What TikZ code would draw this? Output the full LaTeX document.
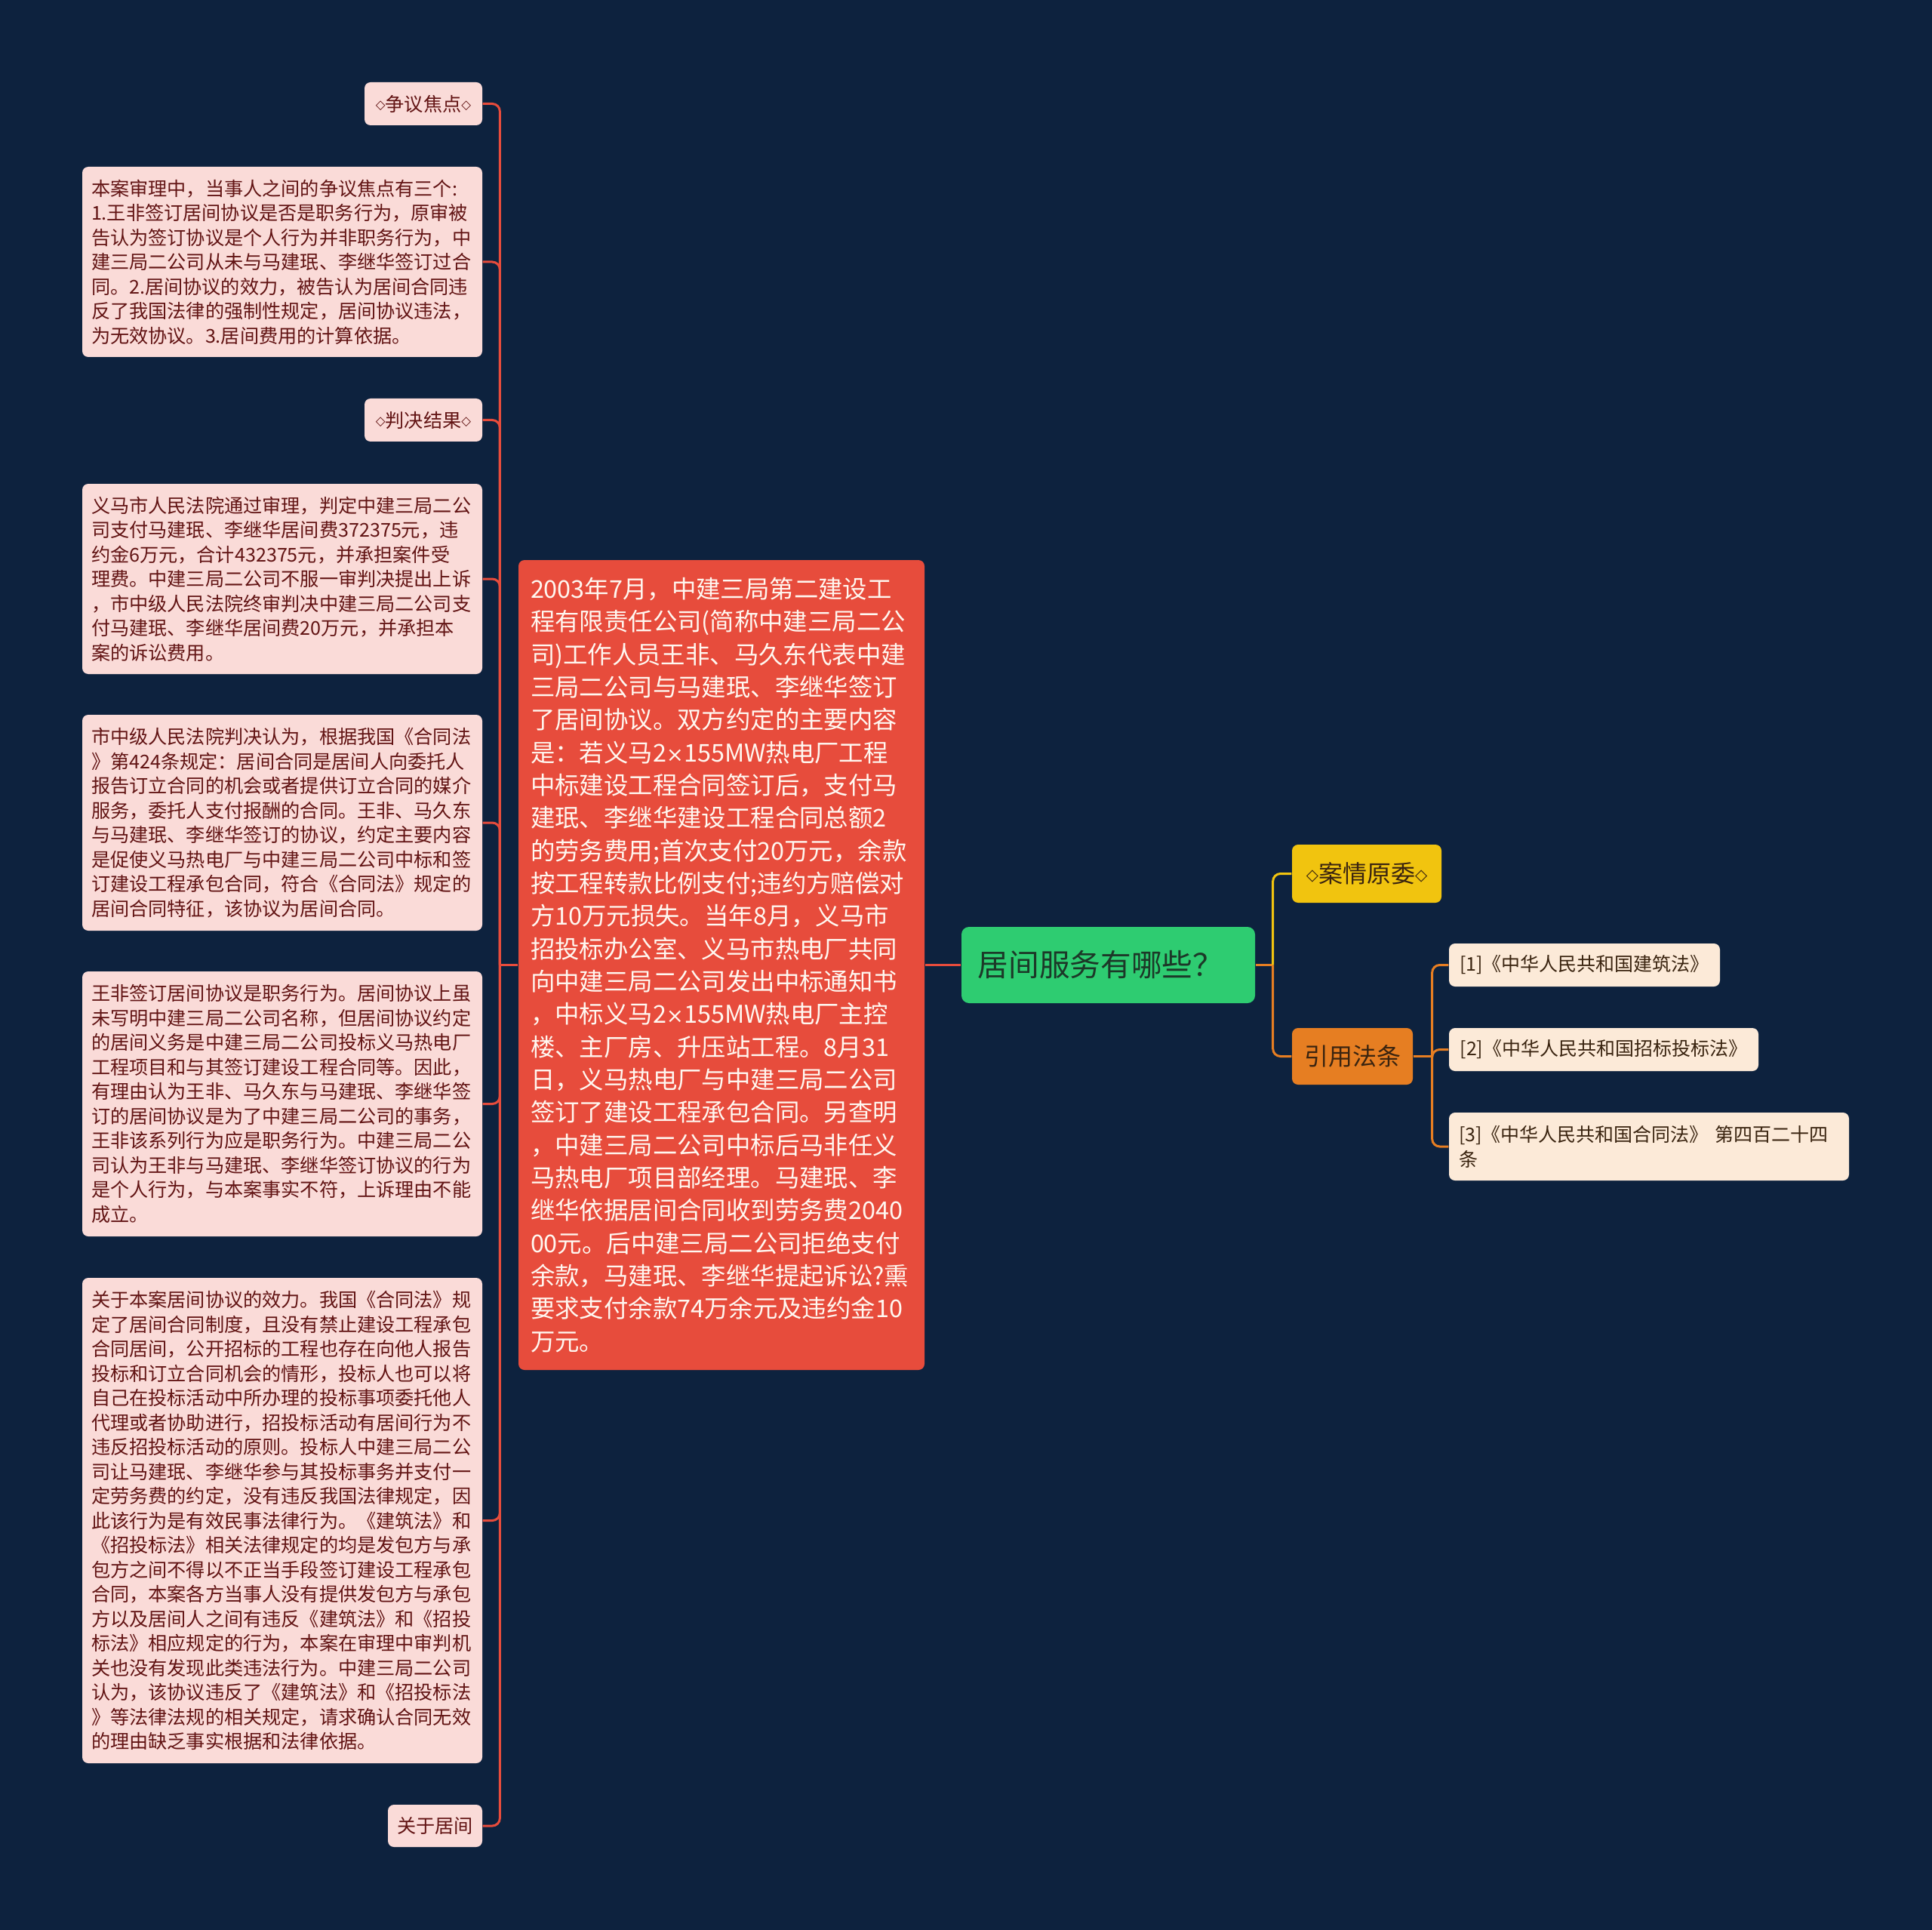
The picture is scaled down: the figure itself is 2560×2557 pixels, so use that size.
\documentclass[tikz,border=0pt]{standalone}
\usepackage{fontspec}
\setmainfont{Noto Sans CJK SC}
\newfontfamily\symfont{DejaVu Sans}
\definecolor{NightNavy}{RGB}{13,34,62}
\definecolor{CaseRed}{RGB}{231,76,60}
\definecolor{RootGreen}{RGB}{46,204,113}
\definecolor{PlotYellow}{RGB}{241,196,15}
\definecolor{LawOrange}{RGB}{230,126,34}
\definecolor{NotePink}{RGB}{250,219,216}
\definecolor{LawCream}{RGB}{252,234,216}
\definecolor{NoteInk}{RGB}{98,20,20}
\definecolor{LawInk}{RGB}{58,36,16}
\newcommand{\dia}{\raisebox{.1em}{\scalebox{.66}{\symfont ◇}}}
\newcommand{\tms}{{\symfont\scalebox{.85}{×}}}

\begin{document}
\begin{tikzpicture}[x=0.3pt,y=-0.3pt,
  note/.style={fill=NotePink,text=NoteInk,rounded corners=2.4pt,inner xsep=3.6pt,inner ysep=0pt,font=\fontsize{7.55pt}{9.75pt}\selectfont,align=left},
  notetext/.style={note,text width=151.8pt,minimum width=159pt},
  law/.style={fill=LawCream,text=LawInk,rounded corners=2.4pt,inner xsep=3.9pt,inner ysep=0pt,font=\fontsize{7.5pt}{9.9pt}\selectfont,align=left},
  topic/.style={rounded corners=2.4pt,inner sep=0pt,text=LawInk,font=\fontsize{9.6pt}{11pt}\selectfont},
  wireR/.style={draw=CaseRed,line width=0.9pt,rounded corners=3pt},
  wireY/.style={draw=PlotYellow,line width=0.9pt,rounded corners=3pt},
  wireO/.style={draw=LawOrange,line width=0.9pt,rounded corners=3pt}]
\fill[NightNavy] (0,0) rectangle (2560,2557);
\node[topic,fill=RootGreen,text={rgb,255:red,28;green,56;blue,40},minimum width=116.7pt,minimum height=30.3pt,rounded corners=3pt,font=\fontsize{12.2pt}{14pt}\selectfont] (root) at (1468.5,1278.5) {居间服务有哪些？\hspace*{6pt}};
\node[fill=CaseRed,text={rgb,255:red,255;green,247;blue,240},rounded corners=2.4pt,inner xsep=4.8pt,inner ysep=0pt,text width=151.8pt,minimum width=161.4pt,minimum height=321.9pt,align=left,font=\fontsize{9.72pt}{13pt}\selectfont] (case) at (956,1278.5) {2003年7月，中建三局第二建设工\\程有限责任公司(简称中建三局二公\\司)工作人员王非、马久东代表中建\\三局二公司与马建珉、李继华签订\\了居间协议。双方约定的主要内容\\是：若义马2\tms 155MW热电厂工程\\中标建设工程合同签订后，支付马\\建珉、李继华建设工程合同总额2\\的劳务费用;首次支付20万元，余款\\按工程转款比例支付;违约方赔偿对\\方10万元损失。当年8月，义马市\\招投标办公室、义马市热电厂共同\\向中建三局二公司发出中标通知书\\，中标义马2\tms 155MW热电厂主控\\楼、主厂房、升压站工程。8月31\\日，义马热电厂与中建三局二公司\\签订了建设工程承包合同。另查明\\，中建三局二公司中标后马非任义\\马热电厂项目部经理。马建珉、李\\继华依据居间合同收到劳务费2040\\00元。后中建三局二公司拒绝支付\\余款，马建珉、李继华提起诉讼?熏\\要求支付余款74万余元及违约金10\\万元。};
\node[note,minimum width=46.8pt,minimum height=17.1pt] (jd1) at (561,137.5) {\dia 争议焦点\dia};
\node[notetext,minimum height=75.6pt] (tx1) at (374,347) {本案审理中，当事人之间的争议焦点有三个:\\1.王非签订居间协议是否是职务行为，原审被\\告认为签订协议是个人行为并非职务行为，中\\建三局二公司从未与马建珉、李继华签订过合\\同。2.居间协议的效力，被告认为居间合同违\\反了我国法律的强制性规定，居间协议违法，\\为无效协议。3.居间费用的计算依据。};
\node[note,minimum width=46.8pt,minimum height=17.1pt] (jd2) at (561,556.5) {\dia 判决结果\dia};
\node[notetext,minimum height=75.6pt] (tx2) at (374,767) {义马市人民法院通过审理，判定中建三局二公\\司支付马建珉、李继华居间费372375元，违\\约金6万元，合计432375元，并承担案件受\\理费。中建三局二公司不服一审判决提出上诉\\，市中级人民法院终审判决中建三局二公司支\\付马建珉、李继华居间费20万元，并承担本\\案的诉讼费用。};
\node[notetext,minimum height=85.8pt] (tx3) at (374,1090) {市中级人民法院判决认为，根据我国《合同法\\》第424条规定：居间合同是居间人向委托人\\报告订立合同的机会或者提供订立合同的媒介\\服务，委托人支付报酬的合同。王非、马久东\\与马建珉、李继华签订的协议，约定主要内容\\是促使义马热电厂与中建三局二公司中标和签\\订建设工程承包合同，符合《合同法》规定的\\居间合同特征，该协议为居间合同。};
\node[notetext,minimum height=105.3pt] (tx4) at (374,1462.5) {王非签订居间协议是职务行为。居间协议上虽\\未写明中建三局二公司名称，但居间协议约定\\的居间义务是中建三局二公司投标义马热电厂\\工程项目和与其签订建设工程合同等。因此，\\有理由认为王非、马久东与马建珉、李继华签\\订的居间协议是为了中建三局二公司的事务，\\王非该系列行为应是职务行为。中建三局二公\\司认为王非与马建珉、李继华签订协议的行为\\是个人行为，与本案事实不符，上诉理由不能\\成立。};
\node[notetext,minimum height=192.9pt] (tx5) at (374,2014.5) {关于本案居间协议的效力。我国《合同法》规\\定了居间合同制度，且没有禁止建设工程承包\\合同居间，公开招标的工程也存在向他人报告\\投标和订立合同机会的情形，投标人也可以将\\自己在投标活动中所办理的投标事项委托他人\\代理或者协助进行，招投标活动有居间行为不\\违反招投标活动的原则。投标人中建三局二公\\司让马建珉、李继华参与其投标事务并支付一\\定劳务费的约定，没有违反我国法律规定，因\\此该行为是有效民事法律行为。《建筑法》和\\《招投标法》相关法律规定的均是发包方与承\\包方之间不得以不正当手段签订建设工程承包\\合同，本案各方当事人没有提供发包方与承包\\方以及居间人之间有违反《建筑法》和《招投\\标法》相应规定的行为，本案在审理中审判机\\关也没有发现此类违法行为。中建三局二公司\\认为，该协议违反了《建筑法》和《招投标法\\》等法律法规的相关规定，请求确认合同无效\\的理由缺乏事实根据和法律依据。};
\node[note,minimum width=37.5pt,minimum height=16.8pt] (gy) at (576.5,2419) {关于居间};
\node[topic,fill=PlotYellow,minimum width=59.4pt,minimum height=23.1pt] (plot) at (1811,1157.5) {\dia 案情原委\dia};
\node[topic,fill=LawOrange,minimum width=48pt,minimum height=22.5pt] (law) at (1792,1399.5) {引用法条};
\node[law,minimum width=107.7pt,minimum height=17.1pt] (law1) at (2099.5,1278.5) {[1]《中华人民共和国建筑法》};
\node[law,minimum width=123pt,minimum height=17.1pt] (law2) at (2125,1390.5) {[2]《中华人民共和国招标投标法》};
\node[law,text width=151.2pt,minimum width=159pt,minimum height=27pt] (law3) at (2185,1519) {[3]《中华人民共和国合同法》 第四百二十四\\条};
\draw[wireR] (root.west) -- (case.east);
\draw[wireR] (case.west) -- ++(-24,0) coordinate (lfork);
\foreach \n in {jd1,tx1,jd2,tx2,tx3,tx4,tx5,gy}{\draw[wireR] (lfork) |- (\n.east);}
\draw[wireO] (root.east) -- ++(23,0) coordinate (rfork);
\draw[wireY] (rfork) |- (plot.west);
\draw[wireO] (rfork) |- (law.west);
\draw[wireO] (law.east) -- ++(25,0) coordinate (lawfork);
\foreach \n in {law1,law2,law3}{\draw[wireO] (lawfork) |- (\n.west);}
\end{tikzpicture}
\end{document}
